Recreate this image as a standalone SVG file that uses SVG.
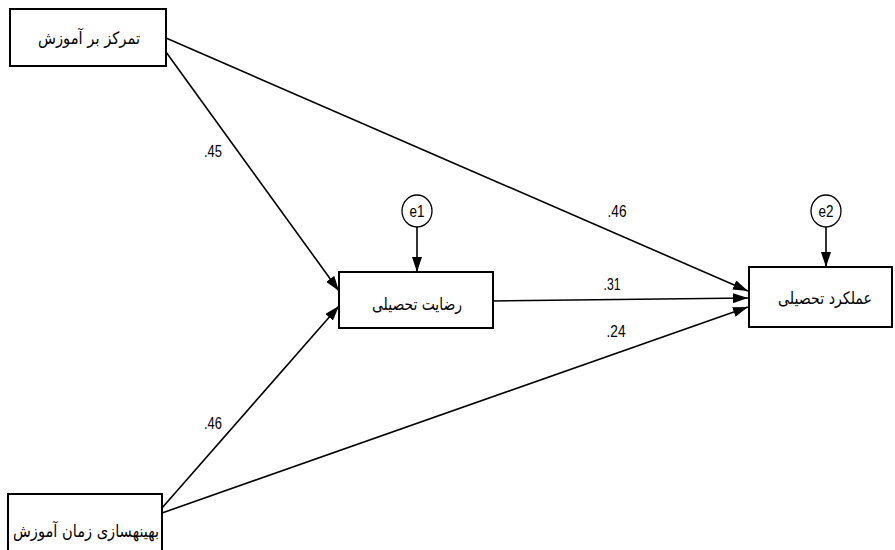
<svg xmlns="http://www.w3.org/2000/svg" width="895" height="550" viewBox="0 0 895 550">
<defs>
<style>
.box{fill:#fff;stroke:#000;stroke-width:2}
.ell{fill:#fff;stroke:#000;stroke-width:1.3}
.fa{font-family:"DejaVu Sans","Noto Sans",sans-serif;font-size:17px;fill:#000;text-anchor:middle;dominant-baseline:central}
.lbl{font-family:"Liberation Sans",Arial,sans-serif;font-size:16px;fill:#000;text-anchor:middle}
.edge{stroke:#000;stroke-width:1.6;fill:none;marker-end:url(#ah)}
</style>
<marker id="ah" viewBox="0 0 15 10" refX="15" refY="5" markerWidth="15" markerHeight="10" markerUnits="userSpaceOnUse" orient="auto">
<path d="M0,0 L15,5 L0,10 Z" fill="#000"/>
</marker>
</defs>
<rect width="895" height="550" fill="#fff"/>
<g id="connectors">
<line class="edge" x1="166" y1="38" x2="748" y2="291"/>
<line class="edge" x1="166" y1="52" x2="339" y2="291"/>
<line class="edge" x1="493" y1="301" x2="748" y2="298"/>
<line class="edge" x1="162" y1="508" x2="339" y2="306"/>
<line class="edge" x1="162" y1="513" x2="748" y2="307"/>
<line class="edge" x1="417" y1="227" x2="417" y2="272"/>
<line class="edge" x1="826" y1="227" x2="826" y2="267"/>
</g>
<g id="labels">
<text class="lbl" x="213" y="157" textLength="18" lengthAdjust="spacingAndGlyphs">.45</text>
<text class="lbl" x="617" y="217" textLength="19" lengthAdjust="spacingAndGlyphs">.46</text>
<text class="lbl" x="612" y="290" textLength="17" lengthAdjust="spacingAndGlyphs">.31</text>
<text class="lbl" x="616" y="337" textLength="19" lengthAdjust="spacingAndGlyphs">.24</text>
<text class="lbl" x="213" y="429" textLength="18" lengthAdjust="spacingAndGlyphs">.46</text>
</g>
<g id="n1">
<rect class="box" x="10" y="9" width="156" height="57"/>
<text class="fa" x="89" y="38" textLength="102" lengthAdjust="spacingAndGlyphs">تمرکز بر آموزش</text>
</g>
<g id="n2">
<rect class="box" x="8" y="494" width="154" height="80"/>
<text class="fa" x="86" y="531" textLength="146" lengthAdjust="spacingAndGlyphs">بهینهسازی زمان آموزش</text>
</g>
<g id="n3">
<rect class="box" x="339" y="272" width="154" height="56"/>
<text class="fa" x="417" y="304" textLength="90" lengthAdjust="spacingAndGlyphs">رضایت تحصیلی</text>
</g>
<g id="n4">
<rect class="box" x="749" y="267" width="143" height="60"/>
<text class="fa" x="825" y="298" textLength="94" lengthAdjust="spacingAndGlyphs">عملکرد تحصیلی</text>
</g>
<g id="e1">
<ellipse class="ell" cx="417" cy="211" rx="15" ry="16"/>
<text class="lbl" x="417" y="217" font-size="15" textLength="15" lengthAdjust="spacingAndGlyphs">e1</text>
</g>
<g id="e2">
<ellipse class="ell" cx="826" cy="211" rx="15" ry="16"/>
<text class="lbl" x="826" y="217" font-size="15" textLength="15" lengthAdjust="spacingAndGlyphs">e2</text>
</g>
</svg>
